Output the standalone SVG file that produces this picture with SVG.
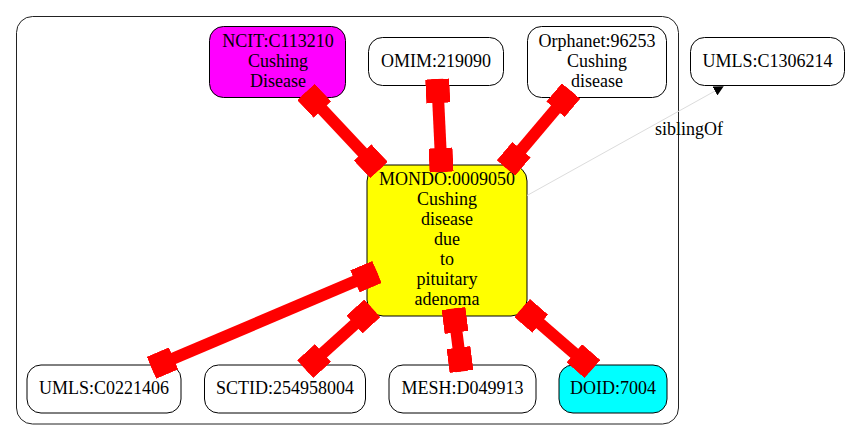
<svg xmlns="http://www.w3.org/2000/svg" width="850" height="440" viewBox="0 0 850 440">
<style>
text{font-family:"Liberation Serif","Times New Roman",serif;font-size:18px;fill:#000;text-anchor:middle}
.node{stroke:#000;stroke-width:1}
.red{stroke:#ff0000;stroke-width:12;fill:none}
.sib{stroke:#dcdcdc;stroke-width:1;fill:none}
</style>
<defs>
<marker id="box" markerUnits="userSpaceOnUse" markerWidth="24" markerHeight="24" viewBox="0 0 24 24" refX="24" refY="12" orient="auto-start-reverse">
<path d="M0,0H24V24H0Z" fill="#ff0000"/>
</marker>
<marker id="tri" markerUnits="userSpaceOnUse" markerWidth="10" markerHeight="10" viewBox="0 0 10 10" refX="0" refY="5" orient="auto">
<path d="M0,0L10,5L0,10Z" fill="#000"/>
</marker>
</defs>
<rect id="cluster" x="16.5" y="16.5" width="662" height="407.5" rx="16" fill="#fff" stroke="#222" stroke-width="1"/>
<g id="n_ncit"><rect class="node" x="209.5" y="26.5" width="136" height="71" rx="14" fill="#ff00ff"/><text x="278" y="46.5">NCIT:C113210</text><text x="278" y="66.5">Cushing</text><text x="278" y="86.5">Disease</text></g>
<g id="n_omim"><rect class="node" x="368.5" y="37.5" width="135" height="48" rx="14" fill="#fff"/><text x="436" y="67">OMIM:219090</text></g>
<g id="n_orphanet"><rect class="node" x="527.5" y="26.5" width="139" height="71" rx="14" fill="#fff"/><text x="597" y="46.5">Orphanet:96253</text><text x="597" y="66.5">Cushing</text><text x="597" y="86.5">disease</text></g>
<g id="n_umls1"><rect class="node" x="690.5" y="37.5" width="154" height="48" rx="14" fill="#fff"/><text x="767.5" y="67">UMLS:C1306214</text></g>
<g id="n_mondo"><rect class="node" x="367" y="165" width="160" height="151" rx="16" fill="#ffff00"/>
<text x="447" y="185">MONDO:0009050</text><text x="447" y="205">Cushing</text><text x="447" y="225">disease</text><text x="447" y="245">due</text><text x="447" y="265">to</text><text x="447" y="285">pituitary</text><text x="447" y="305">adenoma</text></g>
<g id="n_umls2"><rect class="node" x="27" y="365" width="154" height="48" rx="14" fill="#fff"/><text x="104" y="393.5">UMLS:C0221406</text></g>
<g id="n_sctid"><rect class="node" x="204.5" y="365" width="161" height="48" rx="14" fill="#fff"/><text x="285" y="393.5">SCTID:254958004</text></g>
<g id="n_mesh"><rect class="node" x="389" y="365" width="147" height="48" rx="14" fill="#fff"/><text x="462.5" y="393.5">MESH:D049913</text></g>
<g id="n_doid"><rect class="node" x="559" y="365" width="108" height="48" rx="14" fill="#00ffff"/><text x="613" y="393.5">DOID:7004</text></g>
<g id="edges">
<path class="red" d="M306,92L379,170" marker-start="url(#box)" marker-end="url(#box)"/>
<path class="red" d="M437.2,79L441.6,172" marker-start="url(#box)" marker-end="url(#box)"/>
<path class="red" d="M571,91L506,168" marker-start="url(#box)" marker-end="url(#box)"/>
<path class="red" d="M377,272L151.5,367.8" marker-start="url(#box)" marker-end="url(#box)"/>
<path class="red" d="M372.3,308.4L305.2,369.1" marker-start="url(#box)" marker-end="url(#box)"/>
<path class="red" d="M453.5,308.6L461.5,371.4" marker-start="url(#box)" marker-end="url(#box)"/>
<path class="red" d="M522.1,308L592.4,369" marker-start="url(#box)" marker-end="url(#box)"/>
<path class="sib" d="M527,195.5L715,91" marker-end="url(#tri)"/>
<text x="689" y="135">siblingOf</text>
</g>
</svg>
